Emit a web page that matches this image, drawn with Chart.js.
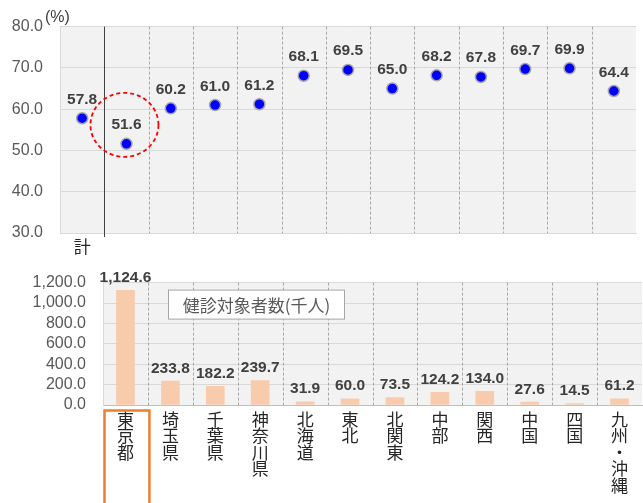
<!DOCTYPE html>
<html lang="ja">
<head>
<meta charset="UTF-8">
<title>健診受診率と健診対象者数</title>
<script src="https://cdn.jsdelivr.net/npm/chart.js"></script>
<style>
  html, body { margin: 0; padding: 0; background: #fff; }
  #wrap { position: relative; width: 643px; height: 503px; overflow: hidden; }
  #rateChart { position: absolute; left: 0; top: 0; }
  #countChart { position: absolute; left: 0; top: 256px; }
</style>
</head>
<body>
<div id="wrap">
  <canvas id="rateChart" width="643" height="262"></canvas>
  <canvas id="countChart" width="643" height="247"></canvas>
</div>
<script>
// 受診率 (%)
const rateLabels = ['計', '東京都', '埼玉県', '千葉県', '神奈川県', '北海道', '東北', '北関東', '中部', '関西', '中国', '四国', '九州・沖縄'];
const rateValues = [57.8, 51.6, 60.2, 61.0, 61.2, 68.1, 69.5, 65.0, 68.2, 67.8, 69.7, 69.9, 64.4];

// 健診対象者数 (千人)
const areaLabels = [
  ['東', '京', '都'], ['埼', '玉', '県'], ['千', '葉', '県'], ['神', '奈', '川', '県'],
  ['北', '海', '道'], ['東', '北'], ['北', '関', '東'], ['中', '部'], ['関', '西'],
  ['中', '国'], ['四', '国'], ['九', '州', '・', '沖', '縄']
];
const countValues = [1124.6, 233.8, 182.2, 239.7, 31.9, 60.0, 73.5, 124.2, 134.0, 27.6, 14.5, 61.2];

const NUM_FONT = "'Liberation Sans', Arial, sans-serif";
const JP_FONT = "'Noto Sans CJK JP', sans-serif";

// グレーの描画領域
const plotBg = {
  id: 'plotBg',
  beforeDraw(chart) {
    const { ctx, chartArea: a } = chart;
    ctx.save();
    ctx.fillStyle = '#F2F2F2';
    ctx.fillRect(a.left, a.top, a.right - a.left, a.bottom - a.top);
    ctx.restore();
  }
};

// 区切り線 (カテゴリの境目)
const sepLines = {
  id: 'sepLines',
  beforeDatasetsDraw(chart, args, opts) {
    const { ctx, chartArea: a, scales: { x } } = chart;
    const n = chart.data.labels.length;
    const half = (x.getPixelForValue(1) - x.getPixelForValue(0)) / 2;
    ctx.save();
    for (let i = 1; i < n; i++) {
      const px = Math.round(x.getPixelForValue(i) - half) + 0.5;
      const solid = opts.solidAt === i;
      ctx.beginPath();
      ctx.setLineDash(solid ? [] : [3, 2]);
      ctx.strokeStyle = solid ? '#404040' : '#A6A6A6';
      ctx.lineWidth = 1;
      ctx.moveTo(px, a.top);
      ctx.lineTo(px, a.bottom + (solid ? 4 : 0));
      ctx.stroke();
    }
    ctx.restore();
  }
};

// 値ラベル
const valueLabels = {
  id: 'valueLabels',
  afterDatasetsDraw(chart, args, opts) {
    const { ctx } = chart;
    const meta = chart.getDatasetMeta(0);
    const values = chart.data.datasets[0].data;
    ctx.save();
    ctx.font = 'bold 15.5px ' + NUM_FONT;
    ctx.fillStyle = '#404040';
    ctx.textAlign = 'center';
    ctx.textBaseline = 'bottom';
    meta.data.forEach((el, i) => {
      const txt = values[i].toLocaleString('en-US', { minimumFractionDigits: 1, maximumFractionDigits: 1 });
      ctx.fillText(txt, el.x, el.y - opts.gap);
    });
    ctx.restore();
  }
};

// 上段: (%) と東京都の赤い点線の円
const rateNotes = {
  id: 'rateNotes',
  afterDraw(chart) {
    const { ctx, chartArea: a } = chart;
    ctx.save();
    ctx.font = '16px ' + NUM_FONT;
    ctx.fillStyle = '#404040';
    ctx.textAlign = 'left';
    ctx.textBaseline = 'middle';
    ctx.fillText('(%)', a.left - 15, a.top - 9);

    const p = chart.getDatasetMeta(0).data[1];
    ctx.beginPath();
    ctx.setLineDash([4, 3]);
    ctx.strokeStyle = '#FF0000';
    ctx.lineWidth = 1.8;
    ctx.ellipse(p.x - 2, p.y - 19, 34, 32, 0, 0, Math.PI * 2);
    ctx.stroke();
    ctx.restore();
  }
};

// 下段: 凡例ボックスと東京都の枠
const countNotes = {
  id: 'countNotes',
  afterDraw(chart) {
    const { ctx, chartArea: a, scales: { x } } = chart;
    ctx.save();
    const bx = a.left + 65.5, by = a.top + 7.5, bw = 176, bh = 29;
    ctx.fillStyle = '#FFFFFF';
    ctx.fillRect(bx, by, bw, bh);
    ctx.strokeStyle = '#A6A6A6';
    ctx.lineWidth = 1;
    ctx.strokeRect(bx, by, bw, bh);
    ctx.font = '17px ' + JP_FONT;
    ctx.fillStyle = '#595959';
    ctx.textAlign = 'center';
    ctx.textBaseline = 'middle';
    ctx.fillText('健診対象者数(千人)', bx + bw / 2, by + bh / 2 + 1);

    const half = (x.getPixelForValue(1) - x.getPixelForValue(0)) / 2;
    const cx = x.getPixelForValue(0);
    ctx.strokeStyle = '#ED7D31';
    ctx.lineWidth = 2.5;
    ctx.strokeRect(cx - half + 1.5, a.bottom + 5.5, half * 2, chart.height);
    ctx.restore();
  }
};

new Chart(document.getElementById('rateChart'), {
  type: 'line',
  data: {
    labels: rateLabels,
    datasets: [{
      data: rateValues,
      showLine: false,
      pointRadius: 5.5,
      pointBackgroundColor: '#0000FF',
      pointBorderColor: '#A5A5A5',
      pointBorderWidth: 1.5
    }]
  },
  options: {
    responsive: false,
    animation: false,
    layout: { padding: { top: 25, right: 1, left: 0, bottom: 0 } },
    plugins: {
      legend: { display: false },
      tooltip: { enabled: false },
      sepLines: { solidAt: 1 },
      valueLabels: { gap: 11 }
    },
    scales: {
      x: {
        offset: true,
        grid: { display: false, drawTicks: false },
        border: { color: '#D9D9D9' },
        afterFit(scale) { scale.height = 29; },
        ticks: {
          padding: 3,
          autoSkip: false,
          maxRotation: 0,
          color: '#262626',
          font: { family: JP_FONT, size: 17 },
          callback: (v, i) => i === 0 ? rateLabels[0] : ''
        }
      },
      y: {
        min: 30, max: 80,
        afterFit(scale) { scale.width = 60; },
        grid: { color: '#D9D9D9', drawTicks: false },
        border: { color: '#D9D9D9' },
        ticks: {
          stepSize: 10,
          autoSkip: false,
          padding: 17,
          color: '#595959',
          font: { family: NUM_FONT, size: 16 },
          callback: v => v.toFixed(1)
        }
      }
    }
  },
  plugins: [plotBg, sepLines, valueLabels, rateNotes]
});

new Chart(document.getElementById('countChart'), {
  type: 'bar',
  data: {
    labels: areaLabels,
    datasets: [{
      data: countValues,
      backgroundColor: '#F8CBAD',
      barThickness: 18
    }]
  },
  options: {
    responsive: false,
    animation: false,
    layout: { padding: { top: 15, right: 1, left: 0, bottom: 0 } },
    plugins: {
      legend: { display: false },
      tooltip: { enabled: false },
      sepLines: { solidAt: -1 },
      valueLabels: { gap: 5 }
    },
    scales: {
      x: {
        grid: { display: false, drawTicks: false },
        border: { color: '#BFBFBF' },
        afterFit(scale) { scale.height = 98; },
        ticks: {
          padding: 6,
          maxRotation: 0,
          autoSkip: false,
          color: '#262626',
          font: { family: JP_FONT, size: 17, lineHeight: '16.5px' }
        }
      },
      y: {
        min: 0, max: 1200,
        afterFit(scale) { scale.width = 103; },
        grid: { color: '#D9D9D9', drawTicks: false },
        border: { color: '#D9D9D9' },
        ticks: {
          stepSize: 200,
          autoSkip: false,
          padding: 17,
          color: '#595959',
          font: { family: NUM_FONT, size: 16 },
          callback: v => v.toLocaleString('en-US', { minimumFractionDigits: 1, maximumFractionDigits: 1 })
        }
      }
    }
  },
  plugins: [plotBg, sepLines, valueLabels, countNotes]
});
</script>
</body>
</html>
